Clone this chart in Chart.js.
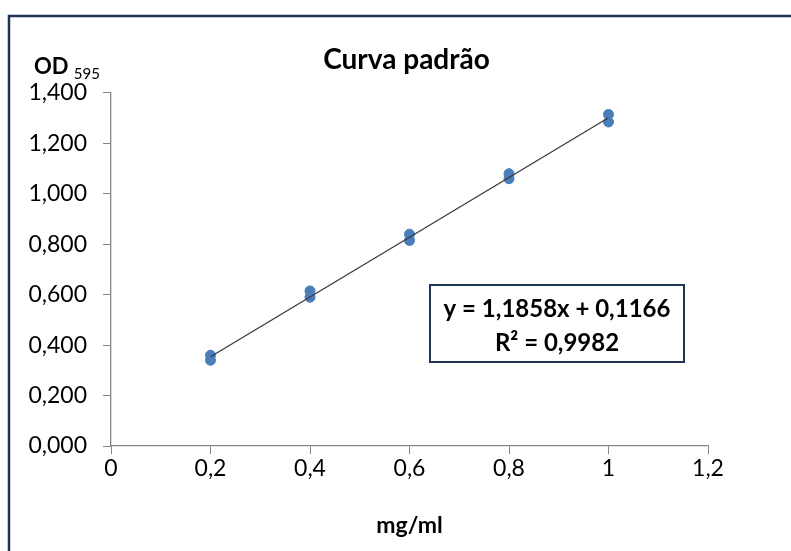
<!DOCTYPE html>
<html>
<head>
<meta charset="utf-8">
<title>Curva padrão</title>
<script src="https://cdn.jsdelivr.net/npm/chart.js@4.4.0/dist/chart.umd.min.js"></script>
<style>
  html, body { margin: 0; padding: 0; background: #ffffff; }
  #wrap { width: 791px; height: 551px; }
</style>
</head>
<body>
<div id="wrap"><canvas id="chart" width="791" height="551"></canvas></div>
<script>
// concentrations (mg/ml) and replicate readings (OD 595)
const concentrations = [0.2, 0.2, 0.4, 0.4, 0.6, 0.6, 0.8, 0.8, 1.0, 1.0];
const odReadings = [0.36, 0.34, 0.615, 0.59, 0.84, 0.815, 1.08, 1.06, 1.315, 1.285];

// linear trendline endpoints (y = 1,1858x + 0,1166)
const trendX = [0.2, 1.0];
const trendY = [0.354, 1.302];

const xTickLabels = ['0', '0,2', '0,4', '0,6', '0,8', '1', '1,2'];
const yTickLabels = ['0,000', '0,200', '0,400', '0,600', '0,800', '1,000', '1,200', '1,400'];

const chartTitle = 'Curva padrão';
const equationLines = ['y = 1,1858x + 0,1166', 'R² = 0,9982'];

const FONT = 'Lato, "Open Sans", sans-serif';
const NAVY = '#1f3557';
const AXIS_GREY = '#868686';

const points = concentrations.map((x, i) => ({ x: x, y: odReadings[i] }));
const trend = trendX.map((x, i) => ({ x: x, y: trendY[i] }));

// frame, title, subscript label and the equation box
const decorations = {
  id: 'decorations',
  beforeDraw(chart) {
    const ctx = chart.ctx;
    ctx.save();
    ctx.fillStyle = '#ffffff';
    ctx.fillRect(0, 0, chart.width, chart.height);
    ctx.strokeStyle = NAVY;
    ctx.lineWidth = 2.5;
    ctx.beginPath();
    ctx.moveTo(9, chart.height);
    ctx.lineTo(9, 16);
    ctx.lineTo(chart.width, 16);
    ctx.stroke();
    ctx.restore();
  },
  afterDraw(chart) {
    const ctx = chart.ctx;
    const area = chart.chartArea;
    ctx.save();
    ctx.fillStyle = '#000000';

    // title, roughly centred over the plot area
    ctx.textAlign = 'center';
    ctx.textBaseline = 'middle';
    ctx.font = 'bold 28px ' + FONT;
    ctx.fillText(chartTitle, (area.left + area.right) / 2 - 3, 60);

    // y axis label with subscript
    ctx.textBaseline = 'alphabetic';
    ctx.textAlign = 'left';
    ctx.font = 'bold 22px ' + FONT;
    ctx.fillText('OD', 34, 74);
    const w = ctx.measureText('OD ').width;
    ctx.font = '15px ' + FONT;
    ctx.fillText('595', 34 + w, 79);

    // equation box
    const bx = 430, by = 285, bw = 254, bh = 77;
    ctx.fillStyle = '#ffffff';
    ctx.fillRect(bx, by, bw, bh);
    ctx.strokeStyle = NAVY;
    ctx.lineWidth = 2;
    ctx.strokeRect(bx, by, bw, bh);
    ctx.fillStyle = '#000000';
    ctx.textAlign = 'center';
    ctx.textBaseline = 'middle';
    ctx.font = 'bold 24px ' + FONT;
    ctx.fillText(equationLines[0], bx + bw / 2, 309);
    ctx.fillText(equationLines[1], bx + bw / 2, 343);
    ctx.restore();
  }
};

new Chart(document.getElementById('chart'), {
  type: 'scatter',
  data: {
    datasets: [
      {
        type: 'line',
        label: 'Linear',
        data: trend,
        borderColor: '#3a3a3a',
        borderWidth: 1.3,
        pointRadius: 0,
        fill: false,
        order: 0
      },
      {
        label: 'OD',
        data: points,
        backgroundColor: '#4a7ebb',
        borderColor: '#4a7ebb',
        pointRadius: 5,
        order: 1
      }
    ]
  },
  options: {
    responsive: false,
    animation: false,
    layout: {
      padding: { top: 93, right: 83, bottom: 0, left: 0 }
    },
    plugins: {
      legend: { display: false },
      tooltip: { enabled: false },
      title: { display: false }
    },
    scales: {
      x: {
        type: 'linear',
        min: 0,
        max: 1.2,
        afterFit(scale) { scale.height = 105; },
        afterBuildTicks(scale) {
          scale.ticks = xTickLabels.map((_, i) => ({ value: i * 0.2 }));
        },
        ticks: {
          color: '#000000',
          font: { family: FONT, size: 23 },
          padding: 1,
          maxRotation: 0,
          callback: (v, i) => xTickLabels[i]
        },
        grid: {
          drawOnChartArea: false,
          drawTicks: true,
          tickLength: 8,
          color: AXIS_GREY
        },
        border: { color: AXIS_GREY, width: 1.3 },
        title: {
          display: true,
          text: 'mg/ml',
          color: '#000000',
          font: { family: FONT, size: 23, weight: 'bold', lineHeight: 1.2 },
          padding: { top: 0, bottom: 12 }
        }
      },
      y: {
        type: 'linear',
        min: 0,
        max: 1.4,
        afterFit(scale) { scale.width = 111; },
        afterBuildTicks(scale) {
          scale.ticks = yTickLabels.map((_, i) => ({ value: i * 0.2 }));
        },
        ticks: {
          color: '#000000',
          font: { family: FONT, size: 23 },
          padding: 16,
          callback: (v, i) => yTickLabels[i]
        },
        grid: {
          drawOnChartArea: false,
          drawTicks: true,
          tickLength: 8,
          color: AXIS_GREY
        },
        border: { color: AXIS_GREY, width: 1.3 }
      }
    }
  },
  plugins: [decorations]
});
</script>
</body>
</html>
